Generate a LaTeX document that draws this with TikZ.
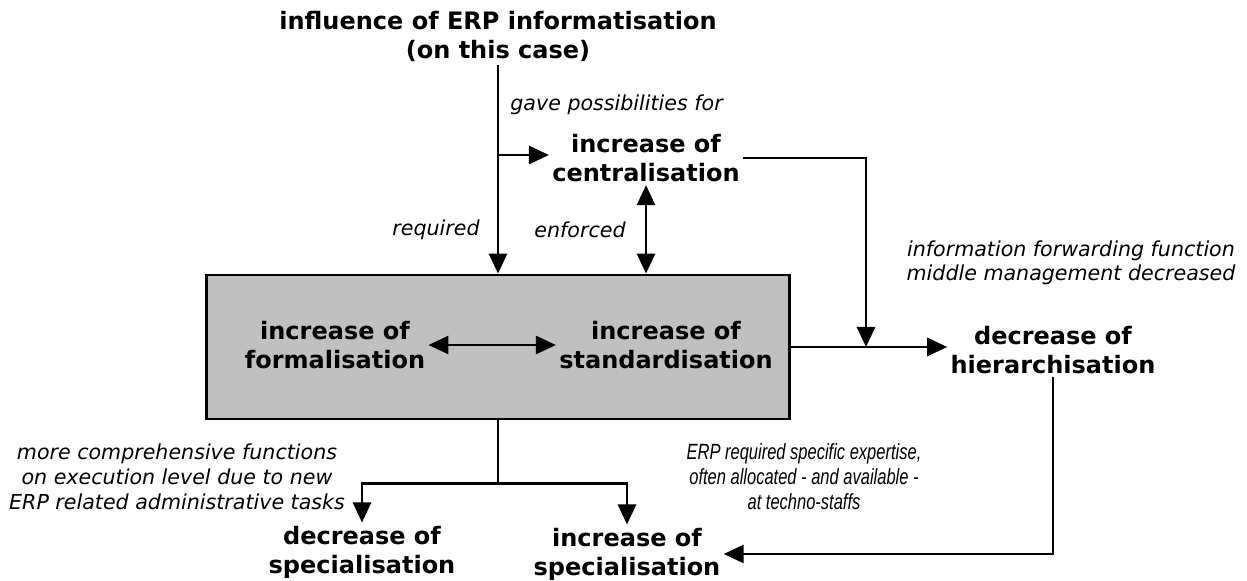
\documentclass[tikz,border=0pt]{standalone}
\usepackage{fontspec}
\setmainfont{DejaVu Sans}
\newfontfamily\condfont[FakeStretch=0.75]{Liberation Sans}
\usetikzlibrary{arrows.meta,positioning}
\definecolor{boxgray}{HTML}{C0C0C0}

\begin{document}
\begin{tikzpicture}[x=0.5pt,y=-0.5pt,
  topic/.style={font=\bfseries\fontsize{12}{14.5}\selectfont,align=center,inner sep=1.5pt},
  note/.style={font=\itshape\fontsize{10.3}{12}\selectfont,align=center,inner sep=0pt},
  arr/.style={line width=1.4pt,-{Triangle[length=10pt,width=9pt]}},
  dblarr/.style={line width=1.4pt,{Triangle[length=10pt,width=9pt]}-{Triangle[length=10pt,width=9pt]}}]
  \useasboundingbox (0,0) rectangle (1247,581);

  % grey block
  \node[draw,line width=1.4pt,fill=boxgray,minimum width=291.5pt,minimum height=72pt] (box) at (498,347) {};

  % topics
  \node[topic] (infl) at (498,36) {influence of ERP informatisation\\(on this case)};
  \node[topic] (cent) at (646,158) {increase of\\centralisation};
  \node[topic] (form) at (335,345) {increase of\\formalisation};
  \node[topic] (stand) at (666,345) {increase of\\standardisation};
  \node[topic] (hier) at (1053,350) {decrease of\\hierarchisation};
  \node[topic] (decspec) at (362,552) {decrease of\\specialisation};
  \node[topic] (incspec) at (627,554) {increase of\\specialisation};

  % labels
  \node[note,anchor=west] (gave) at (510,105) {gave possibilities for};
  \node[note,anchor=east] (reqd) at (480,230) {required};
  \node[note,anchor=east] (enf) at (626,230) {enforced};
  \node[note] (fwd) at (1071,263) {information forwarding function\\middle management decreased};
  \node[note,font=\itshape\fontsize{10.3}{12.5}\selectfont] (exec) at (177,477)
    {more comprehensive functions\\on execution level due to new\\ERP related administrative tasks};
  \node[note,font=\condfont\itshape\fontsize{11}{12.5}\selectfont] (expert) at (804,477)
    {ERP required specific expertise,\\often allocated - and available -\\at techno-staffs};

  % connectors
  \coordinate (fork) at (498,155);
  \coordinate (merge) at (866,347);
  \path (box.south) ++(0,63) coordinate (split);
  \draw[arr] (infl.south) -- (infl.south |- box.north);
  \draw[arr] (fork) -- (fork -| cent.west);
  \draw[dblarr] (cent.south) -- (cent.south |- box.north);
  \draw[dblarr] (form.east) -- (stand.west);
  \draw[arr] (cent.east) -| (merge);
  \draw[arr] (box.east) -- (box.east -| hier.west);
  \draw[arr] (hier.south) |- (incspec.east);
  \draw[line width=1.4pt] (box.south) -- (split);
  \draw[arr] (split) -| (decspec.north);
  \draw[arr] (split) -| (incspec.north);
\end{tikzpicture}
\end{document}
